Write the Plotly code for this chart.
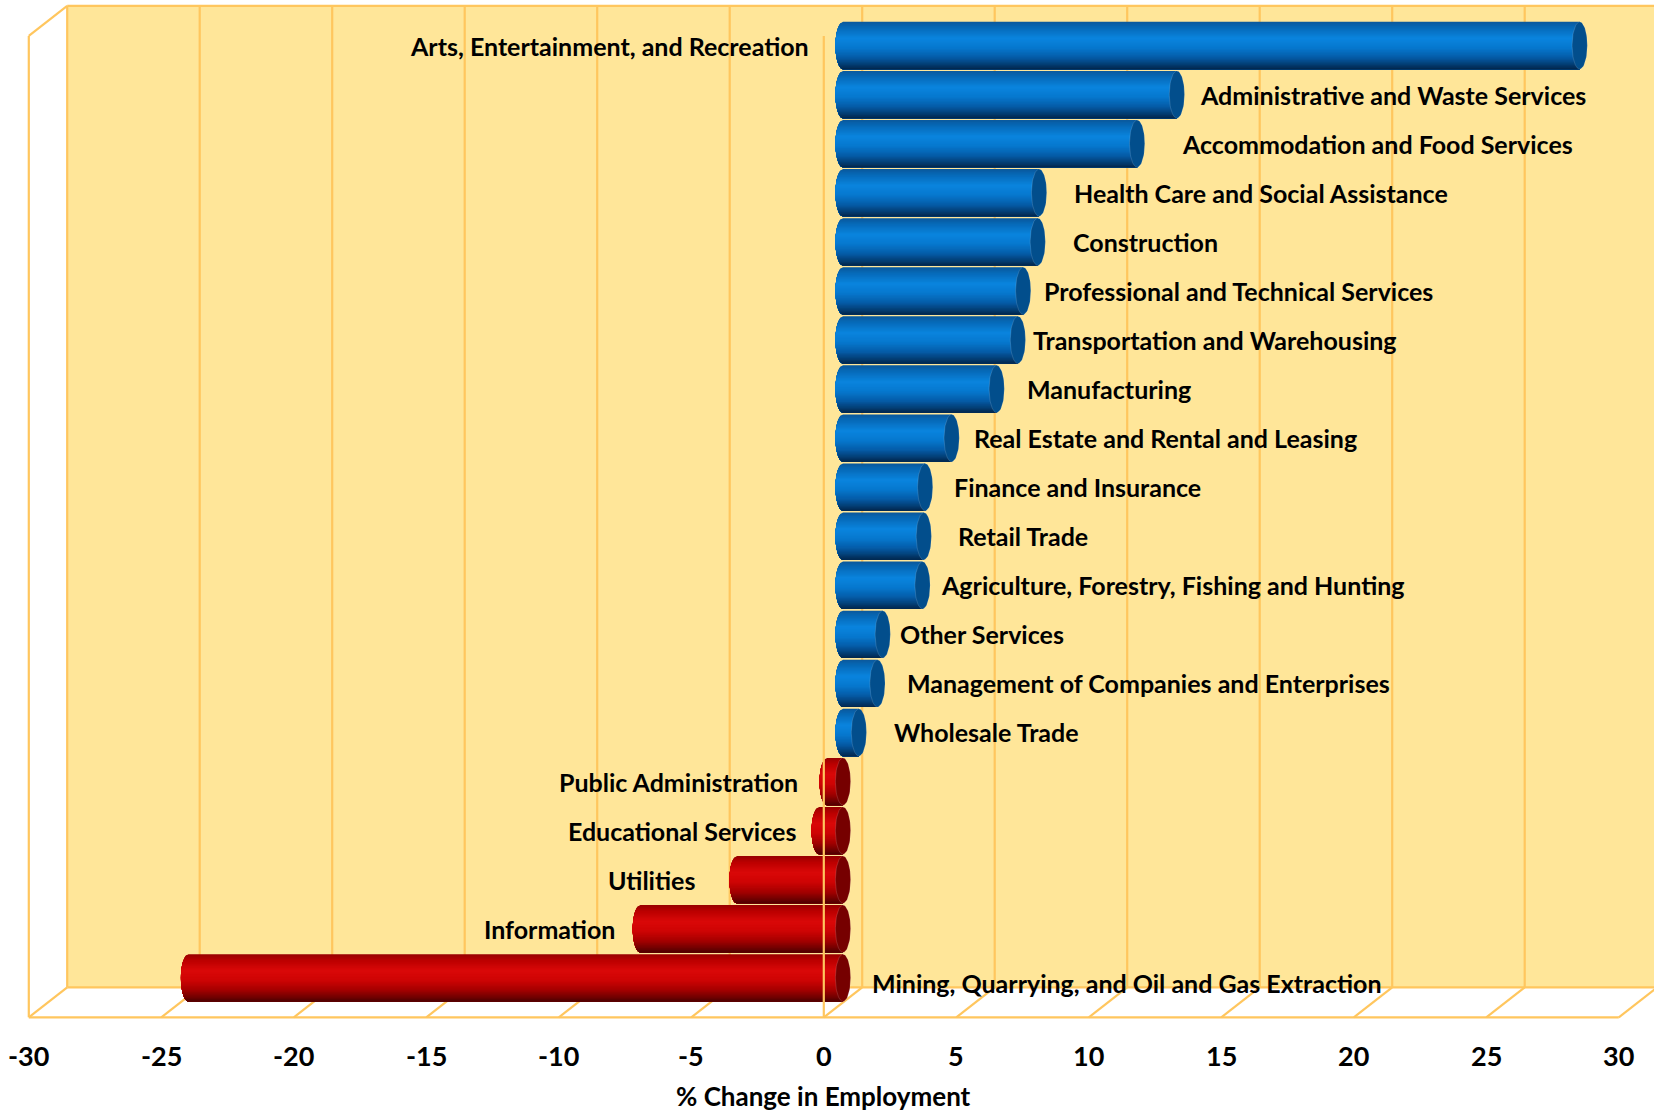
import numpy as np
import plotly.graph_objects as go

# ---- data -------------------------------------------------------------
industries = [
    "Arts, Entertainment, and Recreation",
    "Administrative and Waste Services",
    "Accommodation and Food Services",
    "Health Care and Social Assistance",
    "Construction",
    "Professional and Technical Services",
    "Transportation and Warehousing",
    "Manufacturing",
    "Real Estate and Rental and Leasing",
    "Finance and Insurance",
    "Retail Trade",
    "Agriculture, Forestry, Fishing and Hunting",
    "Other Services",
    "Management of Companies and Enterprises",
    "Wholesale Trade",
    "Public Administration",
    "Educational Services",
    "Utilities",
    "Information",
    "Mining, Quarrying, and Oil and Gas Extraction",
]
pct_change = [27.8, 12.6, 11.1, 7.4, 7.35, 6.8, 6.6, 5.8, 4.1, 3.1,
              3.05, 3.0, 1.5, 1.3, 0.6, -0.6, -0.9, -4.0, -7.65, -24.7]
tick_values = [-30, -25, -20, -15, -10, -5, 0, 5, 10, 15, 20, 25, 30]
axis_title = "% Change in Employment"

# label anchors (axis units) and which side of the anchor the text sits
label_x = [-1.2, 13.41, 12.73, 8.63, 8.59, 7.51, 7.08, 6.88, 4.85, 4.13,
           4.25, 3.62, 2.06, 2.34, 1.86, -1.64, -1.68, -5.50, -8.53, 1.03]
label_anchor = ["right", "left", "left", "left", "left", "left", "left", "left",
                "left", "left", "left", "left", "left", "left", "left",
                "right", "right", "right", "right", "left"]
label_dy = [0] * 19 + [0.1]

# ---- geometry ---------------------------------------------------------
W, H = 1654, 1114
PX_PER_UNIT = 26.5      # horizontal pixels per percentage point
ZERO_PX = 843           # x pixel of 0 in the middle depth plane
ROW_PX = 49.07          # pixels per category row
ROW0_PX = 45.5          # y pixel of the first row centre
DX = 19.2 / PX_PER_UNIT  # half depth, horizontal
DY = 15.0 / ROW_PX       # half depth, vertical
R = 23.65 / ROW_PX       # cylinder radius (rows)
A = 7.6 / PX_PER_UNIT    # end-ellipse half width (units)

VMIN, VMAX = tick_values[0], tick_values[-1]
n = len(industries)
TOP, BOT = -0.5, n - 0.5

WALL = "#FFE699"
GRID = "#FFC65E"


def proj(v, r, d):
    """Map (value, row, depth) to plot coordinates; d=-1 front, d=+1 back."""
    return v + d * DX, r - d * DY


def interp(stops, t):
    ts = [s[0] for s in stops]
    cols = np.array([s[1] for s in stops], dtype=float)
    c = [np.interp(t, ts, cols[:, i]) for i in range(3)]
    return "rgb(%d,%d,%d)" % tuple(int(round(x)) for x in c)


BLUE = [(-1.0, (10, 88, 156)), (-0.75, (6, 106, 184)), (-0.3, (10, 132, 222)),
        (0.1, (6, 120, 206)), (0.5, (5, 92, 168)), (0.8, (3, 62, 116)),
        (1.0, (2, 38, 76))]
RED = [(-1.0, (150, 0, 0)), (-0.75, (186, 0, 0)), (-0.3, (218, 8, 8)),
       (0.1, (206, 4, 4)), (0.5, (166, 0, 0)), (0.8, (116, 0, 0)),
       (1.0, (78, 0, 0))]
CAP = {"pos": "rgb(2,78,140)", "neg": "rgb(118,0,0)"}

fig = go.Figure()
shapes = []


def seg(p, q, layer="below", color=GRID, width=2.2):
    shapes.append(dict(type="line", xref="x", yref="y", x0=p[0], y0=p[1],
                       x1=q[0], y1=q[1], layer=layer,
                       line=dict(color=color, width=width)))


def poly(pts, fill, layer="below"):
    path = "M " + " L ".join("%f,%f" % p for p in pts) + " Z"
    shapes.append(dict(type="path", xref="x", yref="y", path=path,
                       fillcolor=fill, line=dict(width=0), layer=layer))


# back wall
poly([proj(VMIN, TOP, 1), proj(VMAX, TOP, 1), proj(VMAX, BOT, 1), proj(VMIN, BOT, 1)], WALL)
# left wall
poly([proj(VMIN, TOP, -1), proj(VMIN, TOP, 1), proj(VMIN, BOT, 1), proj(VMIN, BOT, -1)], "white")
# floor
poly([proj(VMIN, BOT, -1), proj(VMAX, BOT, -1), proj(VMAX, BOT, 1), proj(VMIN, BOT, 1)], "white")

for v in tick_values:
    seg(proj(v, TOP, 1), proj(v, BOT, 1))          # wall gridline
    seg(proj(v, BOT, -1), proj(v, BOT, 1))         # floor gridline
seg(proj(VMIN, TOP, 1), proj(VMAX, TOP, 1))        # wall top
seg(proj(VMIN, BOT, 1), proj(VMAX, BOT, 1))        # wall bottom
seg(proj(VMIN, BOT, -1), proj(VMAX, BOT, -1))      # floor front edge
seg(proj(VMIN, TOP, -1), proj(VMIN, BOT, -1))      # left wall front edge
seg(proj(VMIN, TOP, -1), proj(VMIN, TOP, 1))       # left wall top edge

# ---- cylinders ----------------------------------------------------------
K = 40
edges = np.linspace(-1, 1, K + 1)
for sign, stops in (("pos", BLUE), ("neg", RED)):
    idx = [i for i, v in enumerate(pct_change) if (v >= 0) == (sign == "pos")]
    for k in range(K):
        t0 = edges[k]
        tm = 0.5 * (edges[k] + edges[k + 1])
        xs, ys = [], []
        for i in idx:
            v = pct_change[i]
            xa, xb = min(0.0, v), max(0.0, v)
            ts = np.linspace(t0, 1, 30)
            cx = xa - A * np.sqrt(np.clip(1 - ts ** 2, 0, 1))
            cy = i + ts * R
            xs += list(cx) + [xb, xb, cx[0], None]
            ys += list(cy) + [i + R, i + t0 * R, cy[0], None]
        fig.add_trace(go.Scatter(x=xs, y=ys, mode="lines", fill="toself",
                                 fillcolor=interp(stops, tm), line=dict(width=0),
                                 hoverinfo="skip", showlegend=False))
    # end caps
    xs, ys = [], []
    th = np.linspace(0, 2 * np.pi, 72)
    for i in idx:
        xb = max(0.0, pct_change[i])
        xs += list(xb + A * np.cos(th)) + [None]
        ys += list(i + R * np.sin(th)) + [None]
    fig.add_trace(go.Scatter(x=xs, y=ys, mode="lines", fill="toself",
                             fillcolor=CAP[sign],
                             line=dict(width=0.8, color="rgba(255,255,255,0.18)"),
                             hoverinfo="skip", showlegend=False))

# vertical axis line at zero on the front plane
seg(proj(0, TOP, -1), proj(0, BOT, -1), layer="above")

# ---- text ----------------------------------------------------------------
FONT = "Lato, 'Open Sans', sans-serif"
ann = []
for i, name in enumerate(industries):
    ann.append(dict(x=label_x[i], y=i + label_dy[i], xref="x", yref="y",
                    text="<b>%s</b>" % name, showarrow=False,
                    xanchor=label_anchor[i], yanchor="middle",
                    font=dict(family=FONT, size=25, color="black")))

fx, fy = proj(0, BOT, -1)
for v in tick_values:
    x, _ = proj(v, BOT, -1)
    ann.append(dict(x=x, y=fy, xref="x", yref="y", text="<b>%d</b>" % v,
                    showarrow=False, xanchor="center", yanchor="middle",
                    yshift=-38, font=dict(family=FONT, size=27, color="black")))
ann.append(dict(x=fx, y=fy, xref="x", yref="y", text="<b>%s</b>" % axis_title,
                showarrow=False, xanchor="center", yanchor="middle", yshift=-79,
                font=dict(family=FONT, size=26, color="black")))

fig.update_layout(
    width=W, height=H,
    margin=dict(l=0, r=0, t=0, b=0),
    paper_bgcolor="white", plot_bgcolor="white",
    shapes=shapes, annotations=ann, showlegend=False,
    xaxis=dict(range=[-ZERO_PX / PX_PER_UNIT, (W - ZERO_PX) / PX_PER_UNIT],
               visible=False, fixedrange=True),
    yaxis=dict(range=[(H - ROW0_PX) / ROW_PX, -ROW0_PX / ROW_PX],
               visible=False, fixedrange=True),
)

fig.write_html("out.html")
